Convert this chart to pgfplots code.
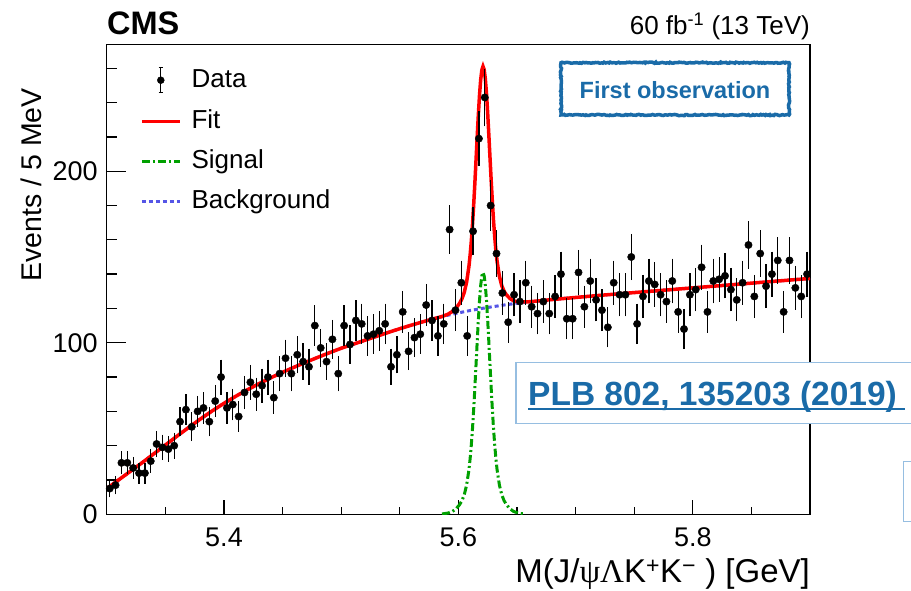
\documentclass[border=0pt]{standalone}
\usepackage{fontspec}
\setmainfont{Liberation Sans}
\newfontfamily\greekserif{Liberation Serif}
\usepackage{pgfplots}
\pgfplotsset{compat=1.18}
\usetikzlibrary{decorations.pathmorphing}
\definecolor{fitred}{RGB}{255,0,0}
\definecolor{siggreen}{RGB}{0,160,0}
\definecolor{bkgblue}{RGB}{85,85,230}
\definecolor{linkblue}{RGB}{26,107,168}
\definecolor{boxblue}{RGB}{150,190,225}
\begin{document}
\begin{tikzpicture}
\useasboundingbox (0pt,0pt) rectangle (911pt,591pt);
\begin{axis}[
  at={(106.8pt,76.7pt)}, anchor=south west,
  scale only axis, width=703.2pt, height=470pt,
  xmin=5.3, xmax=5.9, ymin=0, ymax=274,
  axis line style={line width=1.3pt},
  xtick={5.4,5.6,5.8},
  minor xtick={5.35,5.45,5.5,5.55,5.65,5.7,5.75,5.85},
  ytick={0,100,200},
  minor ytick={20,40,60,80,120,140,160,180,220,240,260},
  xtick pos=left, ytick pos=left, tick align=inside,
  major tick length=14pt, minor tick length=7pt,
  ytick style={/pgfplots/major tick length=19pt,/pgfplots/minor tick length=10pt},
  tick style={line width=1.3pt, black},
  /pgf/number format/assume math mode=true,
  xticklabel style={font=\fontsize{27}{27}\selectfont, inner sep=0pt, yshift=-13pt,
     /pgf/number format/.cd, fixed, precision=1, fixed zerofill},
  yticklabel style={font=\fontsize{27}{27}\selectfont, inner sep=0pt, xshift=-9pt},
  legend style={at={(0.047,0.952)}, anchor=north west, draw=none, fill=none,
     inner sep=0pt, row sep=16pt, column sep=10pt,
     font=\fontsize{26}{26}\selectfont,
     nodes={inner sep=0pt, text height=19pt, text depth=5pt}},
  legend cell align=left,
  legend image code/.code={\draw[#1] (0pt,0pt) -- (38pt,0pt);},
]
% background (drawn first, under the fit)
\addplot[forget plot, bkgblue, line width=3pt, dash pattern=on 4pt off 3pt] table {
x y
5.30 15
5.31 20
5.32 25
5.33 30
5.34 35.2
5.35 40.4
5.36 45.6
5.37 50.7
5.38 55.6
5.39 60.3
5.40 64.7
5.41 68.8
5.42 72.6
5.43 76.2
5.44 79.6
5.45 82.8
5.46 85.8
5.47 88.7
5.48 91.5
5.49 94.2
5.50 96.8
5.51 99.1
5.52 101.4
5.53 103.7
5.54 106.0
5.55 108.2
5.56 110.3
5.57 112.3
5.58 114.2
5.59 115.9
5.60 117.4
5.61 118.8
5.62 120.0
5.63 121.1
5.64 122.1
5.65 123.0
5.66 123.8
5.67 124.5
5.68 125.2
5.70 126.4
5.72 127.6
5.74 128.7
5.76 129.8
5.78 130.9
5.80 132.0
5.82 133.1
5.84 134.2
5.86 135.3
5.88 136.4
5.90 137.5
};
% signal
\addplot[forget plot, siggreen, line width=3pt, dash pattern=on 8pt off 3pt on 2pt off 3pt] table {
x y
5.586 0.2
5.591 0.7
5.595 1.7
5.598 3.2
5.601 5.6
5.603 7.9
5.605 11.4
5.607 17.0
5.609 26.0
5.610 32.4
5.611 40.3
5.612 49.7
5.613 60.8
5.614 73.2
5.615 86.6
5.616 100.1
5.617 113.0
5.618 124.5
5.619 133.3
5.620 139.0
5.621 141.0
5.622 139.0
5.623 133.3
5.624 124.5
5.625 113.0
5.626 100.1
5.627 86.6
5.628 73.2
5.629 60.8
5.630 49.7
5.631 40.3
5.632 32.4
5.633 26.0
5.635 17.0
5.637 11.4
5.639 7.9
5.641 5.6
5.644 3.2
5.647 1.7
5.651 0.7
5.656 0.2
};
% fit
\addplot[forget plot, fitred, line width=3.5pt] table {
x y
5.30 15
5.31 20
5.32 25
5.33 30
5.34 35.2
5.35 40.4
5.36 45.6
5.37 50.7
5.38 55.6
5.39 60.3
5.40 64.7
5.41 68.8
5.42 72.6
5.43 76.2
5.44 79.6
5.45 82.8
5.46 85.8
5.47 88.7
5.48 91.5
5.49 94.2
5.50 96.8
5.51 99.1
5.52 101.4
5.53 103.7
5.54 106.0
5.55 108.2
5.56 110.3
5.57 112.3
5.58 114.2
5.586 115.3
5.591 116.6
5.595 118.3
5.598 120.2
5.601 123.0
5.603 125.6
5.605 129.4
5.607 135.3
5.609 144.6
5.610 151.1
5.611 159.1
5.612 168.7
5.613 179.9
5.614 192.4
5.615 206.0
5.616 219.6
5.617 232.6
5.618 244.2
5.619 253.2
5.620 259.0
5.621 261.1
5.622 259.2
5.623 253.7
5.624 245.0
5.625 233.6
5.626 220.8
5.627 207.4
5.628 194.2
5.629 181.9
5.630 170.9
5.631 161.6
5.632 153.8
5.633 147.5
5.635 138.7
5.637 133.3
5.639 130.0
5.641 127.9
5.644 125.8
5.647 124.5
5.651 123.8
5.656 123.8
5.66 123.9
5.67 124.5
5.68 125.2
5.70 126.4
5.72 127.6
5.74 128.7
5.76 129.8
5.78 130.9
5.80 132.0
5.82 133.1
5.84 134.2
5.86 135.3
5.88 136.4
5.90 137.5
};
% data
\addplot[forget plot, only marks, mark=*, mark size=3.7pt, black, mark options={fill=black},
  error bars/.cd, y dir=both, y explicit,
  error bar style={line width=1.3pt, black},
  error mark options={line width=1.3pt, mark size=2.2pt, black}]
  table[x=x, y=y, y error=e] {
x y e
5.3025 15 3.9
5.3075 17 4.1
5.3125 30 5.5
5.3175 30 5.5
5.3225 27 5.2
5.3275 24 4.9
5.3325 24 4.9
5.3375 31 5.6
5.3425 41 6.4
5.3475 39 6.2
5.3525 38 6.2
5.3575 40 6.3
5.3625 54 7.3
5.3675 61 7.8
5.3725 51 7.1
5.3775 60 7.7
5.3825 62 7.9
5.3875 54 7.3
5.3925 66 8.1
5.3975 80 8.9
5.4025 62 7.9
5.4075 64 8.0
5.4125 57 7.5
5.4175 71 8.4
5.4225 77 8.8
5.4275 70 8.4
5.4325 75 8.7
5.4375 80 8.9
5.4425 68 8.2
5.4475 82 9.1
5.4525 91 9.5
5.4575 82 9.1
5.4625 93 9.6
5.4675 89 9.4
5.4725 86 9.3
5.4775 110 10.5
5.4825 97 9.8
5.4875 89 9.4
5.4925 102 10.1
5.4975 82 9.1
5.5025 110 10.5
5.5075 99 9.9
5.5125 113 10.6
5.5175 111 10.5
5.5225 104 10.2
5.5275 105 10.2
5.5325 107 10.3
5.5375 111 10.5
5.5425 86 9.3
5.5475 93 9.6
5.5525 118 10.9
5.5575 95 9.7
5.5625 103 10.1
5.5675 105 10.2
5.5725 122 11.0
5.5775 113 10.6
5.5825 104 10.2
5.5875 111 10.5
5.5925 166 12.9
5.5975 119 10.9
5.6025 135 11.6
5.6075 104 10.2
5.6125 165 12.8
5.6175 219 14.8
5.6225 243 15.6
5.6275 180 13.4
5.6325 152 12.3
5.6375 129 11.4
5.6425 112 10.6
5.6475 128 11.3
5.6525 124 11.1
5.6575 135 11.6
5.6625 121 11.0
5.6675 117 10.8
5.6725 124 11.1
5.6775 117 10.8
5.6825 127 11.3
5.6875 140 11.8
5.6925 114 10.7
5.6975 114 10.7
5.7025 141 11.9
5.7075 121 11.0
5.7125 136 11.7
5.7175 125 11.2
5.7225 119 10.9
5.7275 109 10.4
5.7325 135 11.6
5.7375 128 11.3
5.7425 128 11.3
5.7475 150 12.2
5.7525 111 10.5
5.7575 127 11.3
5.7625 136 11.7
5.7675 134 11.6
5.7725 128 11.3
5.7775 124 11.1
5.7825 136 11.7
5.7875 118 10.9
5.7925 108 10.4
5.7975 128 11.3
5.8025 131 11.4
5.8075 144 12.0
5.8125 118 10.9
5.8175 136 11.7
5.8225 137 11.7
5.8275 139 11.8
5.8325 131 11.4
5.8375 125 11.2
5.8425 135 11.6
5.8475 157 12.5
5.8525 127 11.3
5.8575 152 12.3
5.8625 133 11.5
5.8675 140 11.8
5.8725 148 12.2
5.8775 118 10.9
5.8825 148 12.2
5.8875 132 11.5
5.8925 127 11.3
5.8975 140 11.8
};
% legend entries
\addlegendimage{legend image code/.code={
  \draw[draw=none] (0pt,0pt) -- (38pt,0pt);
  \draw[black,solid,line width=1.3pt] (19pt,-12.5pt) -- (19pt,12.5pt);
  \draw[black,solid,line width=1.3pt] (16.8pt,-12.5pt) -- (21.2pt,-12.5pt);
  \draw[black,solid,line width=1.3pt] (16.8pt,12.5pt) -- (21.2pt,12.5pt);
  \fill[black] (19pt,0pt) circle (3.5pt);}}
\addlegendentry{Data}
\addlegendimage{fitred, line width=3.5pt}
\addlegendentry{Fit}
\addlegendimage{siggreen, line width=3pt, dash pattern=on 8pt off 3pt on 2pt off 3pt}
\addlegendentry{Signal}
\addlegendimage{bkgblue, line width=3pt, dash pattern=on 4pt off 3pt}
\addlegendentry{Background}
\end{axis}
% titles
\node[anchor=base west, inner sep=0pt, font=\fontsize{32.5}{32.5}\selectfont\bfseries] at (107pt,556pt) {CMS};
\node[anchor=base east, inner sep=0pt, font=\fontsize{26}{26}\selectfont] at (810pt,556.5pt) {60 fb\textsuperscript{-1} (13 TeV)};
\node[anchor=base east, inner sep=0pt, font=\fontsize{33}{33}\selectfont] at (810pt,8pt) {M(J/{\greekserif ψΛ}K\textsuperscript{+}K\textsuperscript{−} ) [GeV]};
\node[rotate=90, anchor=base, inner sep=0pt, font=\fontsize{28.5}{28.5}\selectfont] at (41pt,406pt) {Events / 5 MeV};
% annotation boxes
\draw[linkblue, line width=3.5pt, decorate, decoration={random steps, segment length=1.5pt, amplitude=0.6pt}] (561pt,476pt) rectangle (789pt,528.3pt);
\node[anchor=base, inner sep=0pt, font=\fontsize{23.5}{23.5}\selectfont\bfseries, text=linkblue] at (675pt,492.7pt) {First observation};
\draw[boxblue, line width=1.5pt, fill=white] (516pt,167.7pt) rectangle (930pt,228.3pt);
\node[anchor=base west, inner sep=0pt, font=\fontsize{33.5}{33.5}\selectfont\bfseries, text=linkblue] at (528pt,185.3pt) {PLB 802, 135203 (2019)};
\draw[linkblue, line width=2pt] (528pt,181.7pt) -- (905pt,181.7pt);
\draw[boxblue, line width=1pt] (903.5pt,69.3pt) rectangle (930pt,129.3pt);
\end{tikzpicture}
\end{document}
